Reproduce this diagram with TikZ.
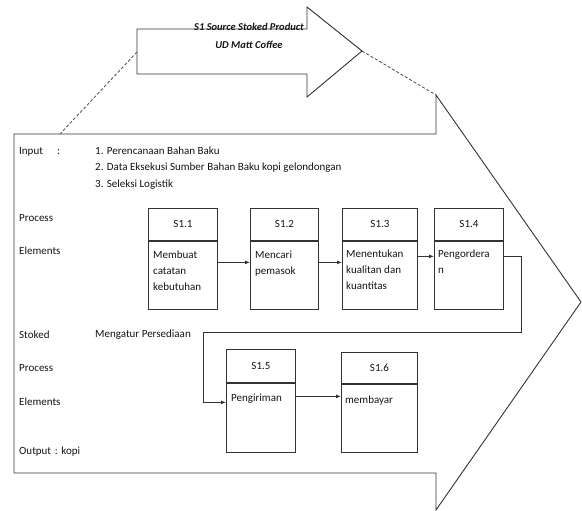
\documentclass[tikz,border=0pt]{standalone}
\usepackage{fontspec}
\setmainfont{Carlito}
\usetikzlibrary{arrows.meta,calc}
\begin{document}
\begin{tikzpicture}[x=1pt,y=-1pt,
  every node/.style={font=\fontsize{11}{16}\selectfont, text=black!92},
  ln/.style={draw=black!80, line width=0.9pt},
  dsh/.style={draw=black!65, line width=0.9pt, dashed, dash pattern=on 3pt off 2pt},
  hdr/.style={ln, rectangle, anchor=north west, inner sep=0pt},
  bdy/.style={ln, rectangle, anchor=north west, inner sep=0pt},
  txt/.style={anchor=north west, align=left, inner sep=0pt},
  lbl/.style={anchor=west, inner sep=0pt},
  arr/.style={ln, -{Latex[length=5pt,width=4pt]}}
]
\useasboundingbox (0,0) rectangle (582,511);

% small arrow (title)
\draw[ln] (137,29) -- (307,29) -- (307,7) -- (362,51) -- (307,97) -- (307,74) -- (137,74) -- cycle;
\node[font=\fontsize{10.5}{18}\selectfont\bfseries\itshape, align=center] (title) at (249,36) {S1 Source Stoked Product\\UD Matt Coffee};

% big arrow
\coordinate (bt) at (436,95);
\coordinate (bl) at (60,134);
\draw[ln] (14,134) -- (436,134) -- (bt) -- (581,302) -- (436,510) -- (436,473) -- (14,473) -- cycle;
\coordinate (st) at (362,51);
\coordinate (sl) at (137,52);
\draw[dsh] (sl) -- (bl);
\draw[dsh] (st) -- (bt);

% left labels
\node[lbl] (in) at (19,152) {Input};
\node[lbl] (inc) at (57,152) {:};
\node[lbl] (i1) at (95,151) {1. Perencanaan Bahan Baku};
\node[lbl] (i2) at (95,168) {2. Data Eksekusi Sumber Bahan Baku kopi gelondongan};
\node[lbl] (i3) at (95,185) {3. Seleksi Logistik};
\node[lbl] (p1) at (19,218) {Process};
\node[lbl] (e1) at (19,251) {Elements};
\node[lbl] (sk) at (19,335) {Stoked};
\node[lbl] (mp) at (95,335) {Mengatur Persediaan};
\node[lbl] (p2) at (19,368) {Process};
\node[lbl] (e2) at (19,402) {Elements};
\node[lbl] (out) at (19,452) {Output\,\,:\,\,kopi};

% boxes
\node[hdr, minimum width=69pt, minimum height=32pt] (h1) at (148,208) {S1.1};
\node[bdy, minimum width=69pt, minimum height=68pt] (b1) at (h1.south west) {};
\node[hdr, minimum width=68pt, minimum height=32pt] (h2) at (250,208) {S1.2};
\node[bdy, minimum width=68pt, minimum height=68pt] (b2) at (h2.south west) {};
\node[hdr, minimum width=75pt, minimum height=32pt] (h3) at (342,208) {S1.3};
\node[bdy, minimum width=75pt, minimum height=68pt] (b3) at (h3.south west) {};
\node[hdr, minimum width=69pt, minimum height=32pt] (h4) at (434,208) {S1.4};
\node[bdy, minimum width=69pt, minimum height=68pt] (b4) at (h4.south west) {};
\node[hdr, minimum width=69pt, minimum height=33pt] (h5) at (226,349) {S1.5};
\node[bdy, minimum width=69pt, minimum height=69pt] (b5) at (h5.south west) {};
\node[hdr, minimum width=76pt, minimum height=31pt] (h6) at (341,352) {S1.6};
\node[bdy, minimum width=76pt, minimum height=68pt] (b6) at (h6.south west) {};

\node[txt] (t1) at ([xshift=5pt,yshift=-10pt]b1.north west) {Membuat\\catatan\\kebutuhan};
\node[txt] (t2) at ([xshift=5pt,yshift=-10pt]b2.north west) {Mencari\\pemasok};
\node[txt] (t3) at ([xshift=4pt,yshift=-9pt]b3.north west) {Menentukan\\kualitan dan\\kuantitas};
\node[txt] (t4) at ([xshift=4pt,yshift=-9pt]b4.north west) {Pengordera\\n};
\node[txt] (t5) at ([xshift=5pt,yshift=-11pt]b5.north west) {Pengiriman};
\node[txt] (t6) at ([xshift=4pt,yshift=-12pt]b6.north west) {membayar};

% connectors
\draw[arr] ([yshift=13pt]b1.east) -- ([yshift=13pt]b2.west);
\draw[arr] ([yshift=13pt]b2.east) -- ([yshift=13pt]b3.west);
\draw[arr] ([yshift=19pt]b3.east) -- ([yshift=19pt]b4.west);
\coordinate (r1) at (521,332);
\coordinate (l1) at (203,332);
\draw[arr] ([yshift=19pt]b4.east) -| (r1) -- (l1) |- ([yshift=15.5pt]b5.west);
\draw[arr] ([yshift=21.5pt]b5.east) -- ([yshift=21.5pt]b5.east -| b6.west);
\end{tikzpicture}
\end{document}
